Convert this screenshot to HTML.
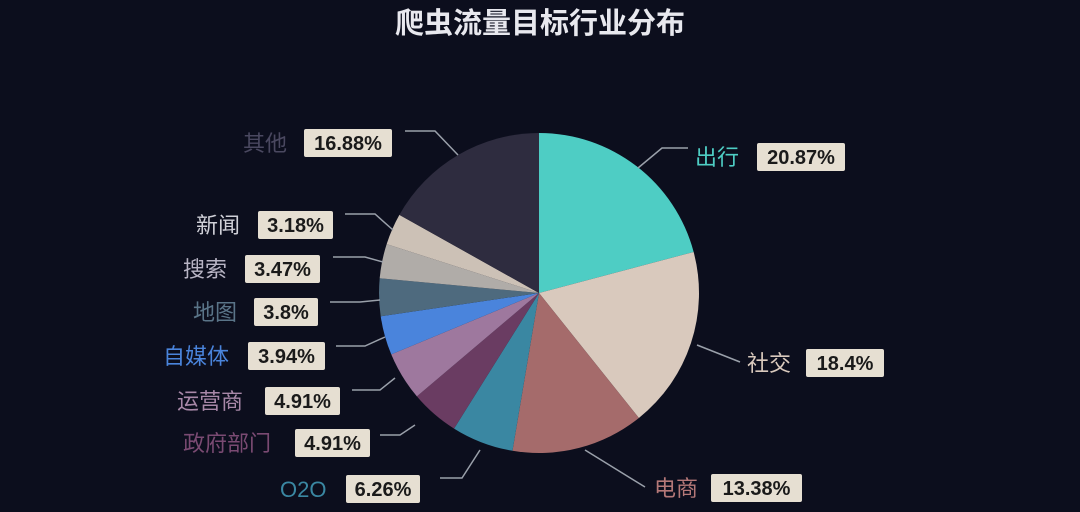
<!DOCTYPE html>
<html><head><meta charset="utf-8"><style>
body{margin:0;width:1080px;height:512px;background:#0c0e1d;overflow:hidden;font-family:"Liberation Sans","Noto Sans CJK SC",sans-serif}
svg{position:absolute;left:0;top:0}
</style></head><body>
<svg width="1080" height="512" viewBox="0 0 1080 512" id="s">
<rect width="1080" height="512" fill="#0c0e1d"/>
<text x="540" y="33" fill="#e8e8ee" font-size="29" font-weight="bold" text-anchor="middle" font-family="Liberation Sans,Noto Sans CJK SC,sans-serif">爬虫流量目标行业分布</text>
<g id="pie"></g>
<g stroke="#9aa0aa" stroke-width="1.5" fill="none">
<polyline points="638,168 662,148 688,148"/>
<polyline points="697,345 740,362"/>
<polyline points="585,450 645,487"/>
<polyline points="480,450 462,478 440,478"/>
<polyline points="415,425 400,435 380,435"/>
<polyline points="395,378 380,390 352,390"/>
<polyline points="385,337 365,346 336,346"/>
<polyline points="380,300 360,302 330,302"/>
<polyline points="383,262 365,257 333,257"/>
<polyline points="393,230 375,214 345,214"/>
<polyline points="458,155 435,131 405,131"/>
</g>
<g font-size="20" font-family="Liberation Sans,Noto Sans CJK SC,sans-serif" id="labels"></g>
</svg>
<script>
var data=[[20.87,"#4ecdc4"],[18.4,"#d9c9bd"],[13.38,"#a56b6b"],[6.26,"#3a87a2"],[4.91,"#6a3c62"],[4.91,"#9e789e"],[3.94,"#4a84dc"],[3.8,"#4e6a7e"],[3.47,"#b0aca8"],[3.18,"#ccc1b6"],[16.88,"#2e2c3f"]];
var cx=539,cy=293,r=160,a=0,g=document.getElementById("pie"),h="";
data.forEach(function(d){var a2=a+d[0]/100*2*Math.PI;
var x1=cx+r*Math.sin(a),y1=cy-r*Math.cos(a),x2=cx+r*Math.sin(a2),y2=cy-r*Math.cos(a2);
h+='<path d="M'+cx+','+cy+'L'+x1+','+y1+'A'+r+','+r+' 0 '+(a2-a>Math.PI?1:0)+' 1 '+x2+','+y2+'Z" fill="'+d[1]+'"/>';a=a2;});
g.innerHTML=h;
var L=[["出行","20.87%",695,157,757,88,"#4ecdc4"],["社交","18.4%",747,363,806,78,"#d9c9bd"],["电商","13.38%",654,488,711,91,"#b57878"],["O2O","6.26%",280,489,346,74,"#3a87a2"],["政府部门","4.91%",183,443,295,75,"#7a4a72"],["运营商","4.91%",177,401,265,75,"#a888a8"],["自媒体","3.94%",163,356,248,77,"#4a84dc"],["地图","3.8%",193,312,254,64,"#5a7488"],["搜索","3.47%",183,269,245,75,"#b8b4c4"],["新闻","3.18%",196,225,258,75,"#d0d0d8"],["其他","16.88%",243,143,304,88,"#4a4860"]];
var s="";L.forEach(function(l){
s+='<text x="'+l[2]+'" y="'+(l[3]+8)+'" fill="'+l[6]+'" font-size="22">'+l[0]+'</text>';
s+='<rect x="'+l[4]+'" y="'+(l[3]-14)+'" width="'+l[5]+'" height="28" rx="2" fill="#e6dfd2"/>';
s+='<text x="'+(l[4]+l[5]/2)+'" y="'+(l[3]+7)+'" fill="#1a1a1a" font-weight="bold" text-anchor="middle">'+l[1]+'</text>';});
document.getElementById("labels").innerHTML=s;
</script>
</body></html>
